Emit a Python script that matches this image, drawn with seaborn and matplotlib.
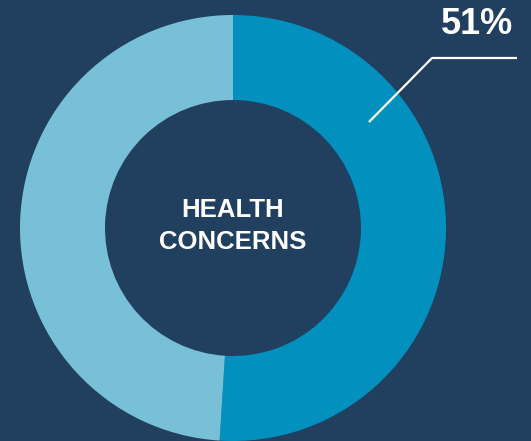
import matplotlib
matplotlib.use("Agg")
import matplotlib.pyplot as plt
import seaborn as sns

# Share of respondents citing health concerns
categories = ["Health concerns", "Other"]
shares = [51, 49]
slice_colors = ["#0291be", "#78c0d8"]
center_label = "HEALTH\nCONCERNS"
value_label = "51%"

BG = "#21405f"

sns.set_theme(style="white")
plt.rcParams["font.family"] = ["Liberation Sans", "DejaVu Sans"]

W, H = 531, 441
fig = plt.figure(figsize=(W / 100, H / 100), dpi=100, facecolor=BG)
ax = fig.add_axes([0, 0, 1, 1])
ax.set_facecolor(BG)

cx, cy, r = 233, H - 228, 213
ax.pie(
    shares,
    colors=slice_colors,
    startangle=90,
    counterclock=False,
    center=(cx, cy),
    radius=r,
    wedgeprops=dict(width=r - 128, linewidth=0),
    frame=True,
)
ax.set_xlim(0, W)
ax.set_ylim(0, H)
ax.set_aspect("equal")
ax.axis("off")

ax.text(cx, H - 226, center_label, ha="center", va="center", color="white",
        fontsize=18.5, fontweight="bold", linespacing=1.38)

# Leader line from the highlighted slice to its value
ax.plot([369, 432, 517], [H - 122, H - 58, H - 58], color="white", lw=1.6,
        solid_capstyle="butt")
ax.text(477, H - 25, value_label, ha="center", va="center", color="white",
        fontsize=26, fontweight="bold")

fig.savefig("out.png", dpi=100, facecolor=BG)
